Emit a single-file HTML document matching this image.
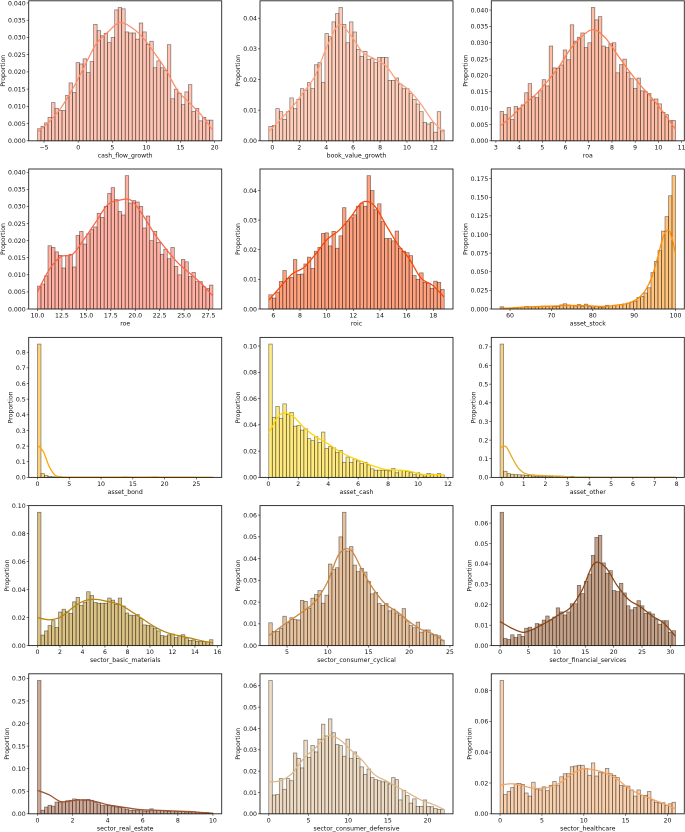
<!DOCTYPE html>
<html>
<head>
<meta charset="utf-8">
<title>Distribution histograms</title>
<style>
html,body{margin:0;padding:0;background:#fff;width:685px;height:832px;overflow:hidden}
svg{display:block;filter:blur(0.35px)}
text{font-family:"DejaVu Sans","Liberation Sans",sans-serif;fill:#111}
</style>
</head>
<body>
<svg id="chart" width="685" height="832" viewBox="0 0 685 832" xmlns="http://www.w3.org/2000/svg"></svg>
<script>
const cashFlowBins=[.0035,.0042,.0052,.0068,.0111,.0094,.0088,.0088,.0132,.0168,.0140,.0227,.0223,.0238,.0198,.0230,.0338,.0320,.0305,.0312,.0285,.0300,.0380,.0387,.0383,.0316,.0313,.0313,.0295,.0342,.0316,.0280,.0289,.0212,.0232,.0212,.0205,.0279,.0122,.0150,.0138,.0105,.0142,.0163,.0085,.0094,.0058,.0068,.0060,.0060];
const cashFlowKde=[.0025,.0055,.0095,.0150,.0215,.0280,.0315,.0343,.0330,.0300,.0255,.0205,.0145,.0110,.0075,.0030];
const bookValueBins=[.0047,.0050,.0105,.0095,.0070,.0095,.0140,.0105,.0135,.0170,.0165,.0190,.0170,.0248,.0255,.0190,.0350,.0340,.0388,.0415,.0435,.0380,.0320,.0388,.0355,.0298,.0275,.0292,.0265,.0268,.0255,.0272,.0272,.0272,.0197,.0197,.0205,.0185,.0170,.0170,.0155,.0135,.0120,.0095,.0060,.0055,.0060,.0028,.0095,.0035];
const bookValueKde=[.0030,.0070,.0110,.0160,.0215,.0310,.0378,.0345,.0290,.0268,.0245,.0195,.0165,.0120,.0065,.0025];
const roaBins=[.0090,.0080,.0102,.0065,.0105,.0100,.0110,.0147,.0175,.0135,.0132,.0153,.0187,.0168,.0290,.0223,.0222,.0232,.0278,.0248,.0355,.0305,.0317,.0330,.0285,.0300,.0408,.0370,.0380,.0290,.0285,.0297,.0300,.0208,.0233,.0250,.0210,.0190,.0160,.0192,.0153,.0150,.0145,.0125,.0128,.0113,.0087,.0080,.0062,.0062];
const roaKde=[.0045,.0075,.0110,.0140,.0180,.0225,.0280,.0320,.0340,.0315,.0265,.0215,.0170,.0130,.0085,.0035];
const roeBins=[.0067,.0073,.0097,.0185,.0180,.0167,.0157,.0120,.0157,.0160,.0123,.0215,.0227,.0190,.0220,.0232,.0240,.0280,.0268,.0300,.0338,.0355,.0320,.0285,.0275,.0390,.0310,.0317,.0313,.0300,.0237,.0272,.0200,.0227,.0195,.0160,.0175,.0147,.0180,.0125,.0100,.0145,.0138,.0095,.0107,.0080,.0080,.0065,.0060,.0070];
const roeKde=[.0050,.0115,.0153,.0160,.0205,.0255,.0305,.0318,.0318,.0275,.0220,.0175,.0135,.0105,.0075,.0038];
const roicBins=[.0048,.0037,.0057,.0093,.0130,.0103,.0107,.0167,.0117,.0118,.0152,.0175,.0137,.0195,.0208,.0255,.0257,.0213,.0262,.0205,.0247,.0342,.0295,.0308,.0318,.0347,.0357,.0347,.0450,.0400,.0335,.0355,.0295,.0238,.0238,.0230,.0263,.0205,.0195,.0190,.0180,.0113,.0100,.0122,.0090,.0087,.0070,.0094,.0090,.0066];
const roicKde=[.0030,.0075,.0118,.0140,.0185,.0235,.0265,.0310,.0360,.0350,.0285,.0220,.0170,.0105,.0080,.0040];
const assetStockBins=[.003,.0012,.0012,.0015,.0018,.0022,.0028,.0035,.0032,.0028,.0030,.0030,.0040,.0035,.0040,.0030,.0032,.0055,.0070,.0055,.0045,.0040,.0060,.0035,.0065,.0030,.0025,.0035,.0025,.0025,.0050,.0040,.0050,.0055,.0060,.0070,.0080,.0095,.0105,.0155,.0170,.0215,.0285,.0490,.0640,.0785,.1045,.1240,.1520,.1790];
const assetStockKde=[.001,.0012,.0015,.002,.0025,.0029,.0032,.0035,.0038,.004,.0042,.0047,.0048,.0047,.0045,.0045,.004,.0036,.0035,.0042,.0052,.0062,.008,.0115,.017,.027,.044,.071,.099,.104,.0745];
const assetBondBins=[.852,.024,.012,.006,.004,.002,.002,.001,.001,.001,.001,.001,.001,.001,.001,.001,.001,.001,.001,.001,.001,.001,.001,.001,.001,.001,.001,.001,.001,.001,.001,.001,.001,.001,.001,.001,.001,.001,.001,.001,.001,.0005,.0005,.0005,.0005,.0005,.0005,.0005,.0005,.001];
const assetBondKde=[.205,.165,.07,.015,.004,.002,.002,.002,.002,.002,.002,.002,.002,.002,.002,.003,.002,.002,.002,.002,.003,.002,.002,.002,.002,.002,.002,.001,.001,.001,.001];
const assetCashBins=[.1015,.0455,.054,.045,.056,.048,.0495,.039,.0395,.036,.037,.0295,.028,.031,.0265,.0345,.022,.0235,.0225,.019,.0205,.0115,.0155,.0115,.014,.0125,.0105,.0115,.0095,.0065,.0055,.0055,.0055,.0052,.005,.0068,.0035,.0055,.0052,.0045,.0035,.002,.0035,.002,.001,.003,.0025,.002,.003,.002];
const assetCashKde=[.034,.048,.047,.038,.031,.026,.020,.0155,.012,.0085,.006,.0055,.0048,.0025,.002,.002];
const assetOtherBins=[.715,.033,.02,.017,.015,.014,.013,.011,.011,.007,.006,.005,.006,.005,.004,.006,.004,.007,.004,.003,.006,.002,.002,.002,.001,.002,.001,.002,.001,.001,.001,.001,.001,.001,.001,.001,.001,.001,.001,.001,.001,.001,.001,.001,.001,.001,.001,.001,.001,.001];
const assetOtherKde=[.16,.165,.11,.055,.025,.015,.012,.01,.009,.008,.007,.005,.003,.002,.002,.002,.001,.001,.001,.001,.001,.001,.001,.001,.001,.001,.001,.001,.001,.001,.001];
const basicMaterialsBins=[.0953,.0075,.0105,.0143,.0178,.013,.024,.026,.0243,.023,.0313,.0345,.0288,.031,.0385,.0358,.0308,.0303,.0303,.0303,.034,.0325,.0295,.034,.0283,.0233,.0218,.0215,.0222,.0193,.0148,.0145,.014,.0122,.0105,.0072,.0068,.0077,.0083,.0057,.0072,.0078,.0055,.0038,.004,.003,.0028,.0028,.0025,.0042];
const basicMaterialsKde=[.020,.0185,.0205,.027,.032,.033,.0315,.0295,.0245,.019,.0135,.0095,.0072,.0055,.0035,.002];
const consumerCyclicalBins=[.0105,.0065,.0065,.0080,.0135,.0105,.0128,.0120,.0118,.0208,.0203,.0172,.0218,.0235,.0253,.0195,.0232,.0375,.0350,.0358,.0500,.0613,.0435,.0455,.0370,.0340,.0355,.0338,.0295,.0238,.0245,.0193,.0185,.0193,.0160,.0168,.0150,.0140,.0170,.0113,.0092,.0082,.0108,.0062,.0072,.0072,.0050,.0050,.0045,.0025];
const consumerCyclicalKde=[.0045,.0085,.0122,.0160,.0205,.0290,.0420,.0440,.0345,.0255,.0190,.0155,.0110,.0075,.0055,.0020];
const financialBins=[.0653,.0035,.003,.0053,.004,.0055,.0045,.0085,.009,.008,.0108,.0105,.0125,.0145,.0125,.014,.0185,.0165,.015,.0165,.0205,.0205,.0295,.0255,.0315,.035,.0442,.0530,.0540,.0405,.0355,.0367,.0270,.0265,.0305,.0258,.0195,.0175,.0187,.022,.0195,.0158,.0165,.0155,.013,.0105,.0122,.0122,.0065,.0073];
const financialKde=[.0118,.0085,.0065,.0085,.0115,.0150,.0185,.0270,.0400,.0385,.0295,.0225,.0190,.0145,.0110,.0045];
const realEstateBins=[.2955,.008,.015,.019,.017,.026,.026,.027,.029,.030,.033,.032,.030,.029,.032,.030,.025,.022,.019,.018,.018,.016,.015,.014,.014,.010,.008,.008,.008,.009,.006,.006,.011,.008,.007,.007,.006,.005,.006,.005,.005,.005,.004,.004,.005,.004,.003,.003,.003,.002];
const realEstateKde=[.052,.042,.027,.029,.031,.027,.020,.016,.012,.009,.008,.007,.006,.005,.003,.001];
const consumerDefensiveBins=[.0625,.0088,.0090,.0165,.0115,.0165,.0155,.0285,.0260,.0215,.0345,.0265,.0320,.0290,.0350,.0420,.0365,.0445,.0380,.0325,.032,.027,.035,.026,.029,.026,.022,.0185,.021,.017,.016,.0155,.015,.015,.014,.017,.016,.0065,.011,.0085,.005,.007,.0035,.0035,.0065,.0035,.0033,.0025,.002,.002];
const consumerDefensiveKde=[.015,.0155,.019,.026,.031,.0365,.035,.030,.025,.0185,.0155,.0125,.0095,.0065,.0045,.002];
const healthcareBins=[.0865,.0125,.0145,.0170,.0195,.0197,.0190,.0135,.0115,.0205,.0160,.0155,.0175,.0150,.0185,.0210,.0182,.0240,.0260,.0260,.0305,.0310,.0315,.0315,.0295,.0250,.0330,.0245,.0270,.0265,.0295,.0260,.0250,.0235,.0185,.0180,.0180,.0155,.0115,.0155,.0120,.0120,.0145,.0090,.0075,.0070,.0072,.0055,.0065,.0075];
const healthcareKde=[.0185,.0195,.018,.0165,.017,.0195,.025,.029,.0285,.0265,.0225,.0165,.0125,.0095,.0065,.0033];

const panelNames=["cash_flow_growth","book_value_growth","roa","roe","roic","asset_stock","asset_bond","asset_cash","asset_other","sector_basic_materials","sector_consumer_cyclical","sector_financial_services","sector_real_estate","sector_consumer_defensive","sector_healthcare"];
const panelBins=[cashFlowBins,bookValueBins,roaBins,roeBins,roicBins,assetStockBins,assetBondBins,assetCashBins,assetOtherBins,basicMaterialsBins,consumerCyclicalBins,financialBins,realEstateBins,consumerDefensiveBins,healthcareBins];
const panelKdes=[cashFlowKde,bookValueKde,roaKde,roeKde,roicKde,assetStockKde,assetBondKde,assetCashKde,assetOtherKde,basicMaterialsKde,consumerCyclicalKde,financialKde,realEstateKde,consumerDefensiveKde,healthcareKde];
const panelRanges=[[-5.96,19.74],[-0.27,12.77],[3.18,10.74],[10,27.95],[5.66,18.82],[57.6,100],[0,27.6],[0.03,11.75],[-0.08,7.95],[0,15.6],[2.76,24.3],[0,30.9],[0,10],[0,22.1],[0,20.95]];
const panelColors=["#ff8c69","#ffa07a","#ff7f50","#ff6347","#ff4500","#ff8c00","#ffa500","#ffd500","#eaa61e","#b8860b","#cd853f","#8b4513","#a0522d","#deb887","#f4a460"];
const xTickLabels=[["−5","0","5","10","15","20"],["0","2","4","6","8","10","12"],["3","4","5","6","7","8","9","10","11"],["10.0","12.5","15.0","17.5","20.0","22.5","25.0","27.5"],["6","8","10","12","14","16","18"],["60","70","80","90","100"],["0","5","10","15","20","25"],["0","2","4","6","8","10","12"],["0","1","2","3","4","5","6","7","8"],["0","2","4","6","8","10","12","14","16"],["5","10","15","20","25"],["0","5","10","15","20","25","30"],["0","2","4","6","8","10"],["0","5","10","15","20"],["0","5","10","15","20"]];
const yTickLabels=[["0.000","0.005","0.010","0.015","0.020","0.025","0.030","0.035","0.040"],["0.00","0.01","0.02","0.03","0.04"],["0.000","0.005","0.010","0.015","0.020","0.025","0.030","0.035","0.040"],["0.000","0.005","0.010","0.015","0.020","0.025","0.030","0.035","0.040"],["0.00","0.01","0.02","0.03","0.04"],["0.000","0.025","0.050","0.075","0.100","0.125","0.150","0.175"],["0.0","0.1","0.2","0.3","0.4","0.5","0.6","0.7","0.8"],["0.00","0.02","0.04","0.06","0.08","0.10"],["0.0","0.1","0.2","0.3","0.4","0.5","0.6","0.7"],["0.00","0.02","0.04","0.06","0.08","0.10"],["0.00","0.01","0.02","0.03","0.04","0.05","0.06"],["0.00","0.01","0.02","0.03","0.04","0.05","0.06"],["0.00","0.05","0.10","0.15","0.20","0.25","0.30"],["0.00","0.01","0.02","0.03","0.04","0.05","0.06"],["0.00","0.02","0.04","0.06","0.08"]];

const NS="http://www.w3.org/2000/svg";
const svg=document.getElementById("chart");
const colLeft=[28.7,260,491.3];
const rowTop=[0.8,169,337.4,505.6,673.8];
const axW=193, axH=140, FS=6.2;

function make(parent,tag,attrs,text){
  const e=document.createElementNS(NS,tag);
  for(const k in attrs)e.setAttribute(k,attrs[k]);
  if(text!==undefined)e.textContent=text;
  parent.appendChild(e);
  return e;
}
function tickValue(s){return parseFloat(s.replace("−","-"));}
function smoothPath(pts){
  let d="M"+pts[0][0].toFixed(2)+" "+pts[0][1].toFixed(2);
  for(let i=0;i<pts.length-1;i++){
    const p0=pts[Math.max(0,i-1)],p1=pts[i],p2=pts[i+1],p3=pts[Math.min(pts.length-1,i+2)];
    const c1x=p1[0]+(p2[0]-p0[0])/6,c1y=p1[1]+(p2[1]-p0[1])/6;
    const c2x=p2[0]-(p3[0]-p1[0])/6,c2y=p2[1]-(p3[1]-p1[1])/6;
    d+="C"+c1x.toFixed(2)+" "+c1y.toFixed(2)+" "+c2x.toFixed(2)+" "+c2y.toFixed(2)+" "+p2[0].toFixed(2)+" "+p2[1].toFixed(2);
  }
  return d;
}

panelNames.forEach(function(name,idx){
  const left=colLeft[idx%3], top=rowTop[Math.floor(idx/3)], bottom=top+axH;
  const bins=panelBins[idx], kde=panelKdes[idx], range=panelRanges[idx], color=panelColors[idx];
  const span=range[1]-range[0];
  const xMin=range[0]-span*0.05, xMax=range[1]+span*0.05;
  const yMax=Math.max.apply(null,bins)*1.05;
  const sx=function(v){return left+(v-xMin)/(xMax-xMin)*axW;};
  const sy=function(v){return bottom-v/yMax*axH;};
  const slug=name.replace(/_/g,"-");

  const g=make(svg,"g",{});
  
  

  const binW=span/bins.length;
  bins.forEach(function(v,i){
    const x0=sx(range[0]+i*binW), x1=sx(range[0]+(i+1)*binW), y=sy(v);
    const r=make(g,"rect",{x:x0.toFixed(2),y:y.toFixed(2),width:(x1-x0).toFixed(2),height:(bottom-y).toFixed(2),fill:color,"fill-opacity":"0.5",stroke:"#000","stroke-opacity":"0.5","stroke-width":"0.7"});
    
    
  });

  const kdeStep=span/(kde.length-1);
  const pts=kde.map(function(v,i){return [sx(range[0]+i*kdeStep),sy(v)];});
  const line=make(g,"path",{d:smoothPath(pts),fill:"none",stroke:color,"stroke-width":"1.25"});
  
  

  const frame=make(g,"rect",{x:left,y:top,width:axW,height:axH,fill:"none",stroke:"#222","stroke-width":"0.9"});
  
  

  xTickLabels[idx].forEach(function(s){
    const x=sx(tickValue(s));
    const t=make(g,"line",{x1:x,x2:x,y1:bottom,y2:bottom+2,stroke:"#222","stroke-width":"0.6"});
    
    
    const l=make(g,"text",{x:x,y:bottom+8.6,"text-anchor":"middle","font-size":FS},s);
    
    
  });
  let labelChars=0;
  yTickLabels[idx].forEach(function(s){
    const y=sy(tickValue(s));
    labelChars=s.length;
    const t=make(g,"line",{x1:left-2,x2:left,y1:y,y2:y,stroke:"#222","stroke-width":"0.6"});
    
    
    const l=make(g,"text",{x:left-3,y:y+2.3,"text-anchor":"end","font-size":FS},s);
    
    
  });

  const xl=make(g,"text",{x:left+axW/2,y:bottom+16.5,"text-anchor":"middle","font-size":FS},name);
  
  

  const labelW=((labelChars-1)*0.636+0.318)*FS;
  const yx=left-3-labelW-5.3, yc=top+axH/2;
  const yl=make(g,"text",{x:yx+2.2,y:yc,"text-anchor":"middle","font-size":FS,transform:"rotate(-90 "+(yx+2.2)+" "+yc+")"},"Proportion");
  
  
});
</script>
</body>
</html>
